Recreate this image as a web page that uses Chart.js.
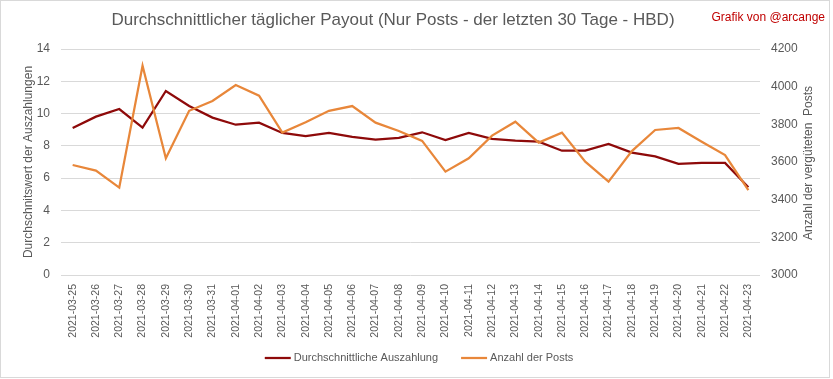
<!DOCTYPE html>
<html><head><meta charset="utf-8">
<script src="https://cdn.jsdelivr.net/npm/chart.js@4.4.1/dist/chart.umd.min.js"></script>
<style>html,body{margin:0;padding:0;background:#fff;}#c{display:block;}</style>
</head><body>
<canvas id="c" width="833" height="379"></canvas>
<script>
const categories = ["2021-03-25","2021-03-26","2021-03-27","2021-03-28","2021-03-29","2021-03-30","2021-03-31",
  "2021-04-01","2021-04-02","2021-04-03","2021-04-04","2021-04-05","2021-04-06","2021-04-07","2021-04-08",
  "2021-04-09","2021-04-10","2021-04-11","2021-04-12","2021-04-13","2021-04-14","2021-04-15","2021-04-16",
  "2021-04-17","2021-04-18","2021-04-19","2021-04-20","2021-04-21","2021-04-22","2021-04-23"];
const payout = [9.11, 9.81, 10.28, 9.13, 11.40, 10.47, 9.75, 9.31, 9.44, 8.80, 8.61, 8.80, 8.55, 8.38, 8.49,
  8.84, 8.36, 8.80, 8.43, 8.32, 8.26, 7.70, 7.70, 8.12, 7.58, 7.35, 6.88, 6.94, 6.94, 5.43];
const posts = [3584, 3554, 3464, 4111, 3620, 3872, 3924, 4009, 3952, 3756, 3811, 3872, 3897, 3809, 3765,
  3712, 3549, 3620, 3740, 3814, 3703, 3756, 3602, 3496, 3658, 3770, 3781, 3708, 3637, 3451];
const leftAxis = {min: 0, max: 14, step: 2};
const rightAxis = {min: 3000, max: 4200, step: 200};
const titleText = "Durchschnittlicher täglicher Payout (Nur Posts - der letzten 30 Tage - HBD)";
const creditText = "Grafik von @arcange";
const leftTitle = "Durchschnitswert der Auszahlungen";
const rightTitle = "Anzahl der vergüteten  Posts";
const seriesNames = ["Durchschnittliche Auszahlung", "Anzahl der Posts"];

const FONT = "'Liberation Sans', Arial, sans-serif";
const GREY = "#595959";
const RED = "#8e0a0a";
const ORANGE = "#e8873a";

const decor = {
  id: 'decor',
  beforeDraw(chart) {
    const ctx = chart.ctx;
    ctx.save();
    ctx.fillStyle = '#fff';
    ctx.fillRect(0, 0, chart.width, chart.height);
    ctx.restore();
  },
  afterDraw(chart) {
    const ctx = chart.ctx;
    const area = chart.chartArea;
    ctx.save();
    // border
    ctx.strokeStyle = '#d9d9d9';
    ctx.lineWidth = 1;
    ctx.strokeRect(0.5, 0.5, 829, 377);
    // title
    ctx.fillStyle = GREY;
    ctx.font = "17px " + FONT;
    ctx.textAlign = 'center';
    ctx.textBaseline = 'middle';
    ctx.fillText(titleText, 393, 20);
    // credit
    ctx.fillStyle = '#c00000';
    ctx.font = "12px " + FONT;
    ctx.textAlign = 'right';
    ctx.fillText(creditText, 825, 18);
    // right axis title, rotated like the left one (reads bottom to top)
    ctx.save();
    ctx.translate(809, (area.top + area.bottom) / 2 + 1);
    ctx.rotate(-Math.PI / 2);
    ctx.fillStyle = GREY;
    ctx.font = "12px " + FONT;
    ctx.textAlign = 'center';
    ctx.fillText(rightTitle, 0, 0);
    ctx.restore();
    // legend
    ctx.font = "11px " + FONT;
    ctx.textAlign = 'left';
    const ds = chart.data.datasets;
    const lineW = 26, gapTxt = 3, gapItem = 23;
    const widths = ds.map(d => lineW + gapTxt + ctx.measureText(d.label).width);
    const total = widths.reduce((a, b) => a + b, 0) + gapItem * (ds.length - 1);
    let x = 419 - total / 2;
    const y = 358;
    ds.forEach((d, i) => {
      ctx.strokeStyle = d.borderColor;
      ctx.lineWidth = 2.25;
      ctx.beginPath();
      ctx.moveTo(x, y);
      ctx.lineTo(x + lineW, y);
      ctx.stroke();
      ctx.fillStyle = GREY;
      ctx.fillText(d.label, x + lineW + gapTxt, y);
      x += widths[i] + gapItem;
    });
    ctx.restore();
  }
};

new Chart(document.getElementById('c'), {
  type: 'line',
  data: {
    labels: categories,
    datasets: [
      {label: seriesNames[0], data: payout, yAxisID: 'y', borderColor: RED, backgroundColor: RED,
       borderWidth: 2.25, pointRadius: 0, tension: 0, order: 1},
      {label: seriesNames[1], data: posts, yAxisID: 'y1', borderColor: ORANGE, backgroundColor: ORANGE,
       borderWidth: 2.25, pointRadius: 0, tension: 0, order: 0}
    ]
  },
  options: {
    responsive: false,
    animation: false,
    devicePixelRatio: 1,
    layout: {padding: {top: 49, left: 0, right: 0, bottom: 0}},
    plugins: {legend: {display: false}, title: {display: false}, tooltip: {enabled: false}},
    scales: {
      x: {
        offset: true,
        grid: {display: false, drawTicks: false},
        border: {display: false},
        ticks: {color: GREY, font: {family: FONT, size: 10.5}, maxRotation: 90, minRotation: 90, padding: 9, autoSkip: false},
        afterFit: s => { s.height = 104; }
      },
      y: {
        position: 'left',
        min: leftAxis.min, max: leftAxis.max,
        ticks: {stepSize: leftAxis.step, color: GREY, font: {family: FONT, size: 12}, padding: 11},
        grid: {color: '#d9d9d9', lineWidth: 1, drawTicks: false},
        border: {display: false},
        title: {display: true, text: leftTitle, color: GREY, font: {family: FONT, size: 12}, padding: {top: 21, bottom: 0}},
        afterFit: s => { s.width = 61; }
      },
      y1: {
        position: 'right',
        min: rightAxis.min, max: rightAxis.max,
        ticks: {stepSize: rightAxis.step, color: GREY, font: {family: FONT, size: 12}, padding: 11,
                callback: v => String(v)},
        grid: {drawOnChartArea: false, drawTicks: false},
        border: {display: false},
        title: {display: false},
        afterFit: s => { s.width = 73; }
      }
    }
  },
  plugins: [decor]
});
</script>
</body></html>
